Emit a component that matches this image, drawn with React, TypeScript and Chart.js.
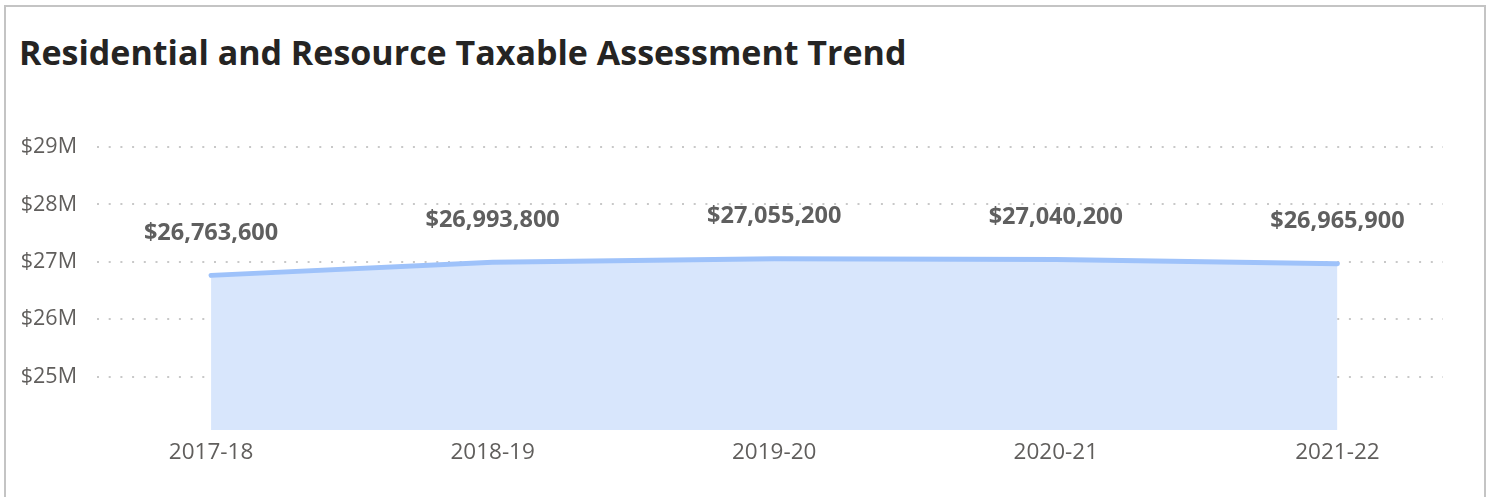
import React, { useEffect, useRef } from "react";
import { Chart, registerables } from "chart.js";

Chart.register(...registerables);

const TITLE = "Residential and Resource Taxable Assessment Trend";
const categories = ["2017-18", "2018-19", "2019-20", "2020-21", "2021-22"];
const assessmentValues = [26763600, 26993800, 27055200, 27040200, 26965900];
const yTickValues = [25000000, 26000000, 27000000, 28000000, 29000000];

const FONT = "'Open Sans', 'DejaVu Sans', sans-serif";
const TEXT_GRAY = "#605e5c";

const fmtMoney = (v: number) => "$" + v.toLocaleString("en-US");
const fmtM = (v: number) => "$" + Math.round(v / 1000000) + "M";

const dataLabelPlugin = {
  id: "dataLabels",
  afterDatasetsDraw(chart: any) {
    const ctx = chart.ctx;
    const meta = chart.getDatasetMeta(0);
    ctx.save();
    ctx.font = `bold 23.5px ${FONT}`;
    ctx.fillStyle = "#5f5f5f";
    ctx.textAlign = "center";
    ctx.textBaseline = "middle";
    meta.data.forEach((pt: any, i: number) => {
      ctx.fillText(fmtMoney(assessmentValues[i]), pt.x, pt.y - 42);
    });
    ctx.restore();
  },
};

export default function App() {
  const canvasRef = useRef<HTMLCanvasElement | null>(null);

  useEffect(() => {
    if (!canvasRef.current) return;
    const chart = new Chart(canvasRef.current, {
      type: "line",
      data: {
        datasets: [
          {
            data: assessmentValues.map((v, i) => ({ x: i, y: v })),
            borderColor: "#9ec2fa",
            backgroundColor: "#d8e6fc",
            borderWidth: 5,
            borderCapStyle: "round",
            borderJoinStyle: "round",
            pointRadius: 0,
            pointHoverRadius: 0,
            tension: 0,
            fill: "start",
          },
        ],
      },
      options: {
        responsive: false,
        animation: false,
        events: [],
        layout: { padding: { top: 147, left: 0, right: 46, bottom: 0 } },
        plugins: {
          legend: { display: false },
          tooltip: { enabled: false },
          title: { display: false },
        },
        scales: {
          x: {
            type: "linear",
            min: -0.405,
            max: 4.375,
            grid: { display: false, drawTicks: false },
            border: { display: false },
            afterBuildTicks: (scale: any) => {
              scale.ticks = categories.map((_, i) => ({ value: i }));
            },
            afterFit: (scale: any) => {
              scale.height = 67;
            },
            ticks: {
              padding: 9,
              color: TEXT_GRAY,
              font: { family: FONT, size: 22.5 },
              maxRotation: 0,
              autoSkip: false,
              callback: (v: any) => categories[v as number] ?? "",
            },
          },
          y: {
            min: 24070000,
            max: 29000000,
            grid: {
              color: "#c8c8c8",
              lineWidth: 2,
              drawTicks: false,
            },
            border: { display: false, dash: [2, 9.7] },
            afterBuildTicks: (scale: any) => {
              scale.ticks = yTickValues.map((v) => ({ value: v }));
            },
            afterFit: (scale: any) => {
              scale.width = 97;
            },
            ticks: {
              padding: 20,
              color: TEXT_GRAY,
              font: { family: FONT, size: 21.5 },
              callback: (v: any) => fmtM(v as number),
            },
          },
        },
      },
      plugins: [dataLabelPlugin],
    } as any);
    return () => chart.destroy();
  }, []);

  return (
    <div style={{ position: "absolute", left: 0, top: 0, width: 1489, height: 497, overflow: "hidden", background: "#fff" }}>
      <div
        style={{
          position: "absolute",
          left: 4,
          top: 5,
          width: 1482,
          height: 540,
          border: "2px solid #c4c4c4",
          boxSizing: "border-box",
          background: "#fff",
        }}
      />
      <div
        style={{
          position: "absolute",
          left: 19,
          top: 31,
          fontFamily: FONT,
          fontWeight: 700,
          fontSize: 34,
          lineHeight: "42px",
          color: "#252423",
          whiteSpace: "nowrap",
        }}
      >
        {TITLE}
      </div>
      <canvas
        ref={canvasRef}
        width={1489}
        height={497}
        style={{ position: "absolute", left: 0, top: 0, width: 1489, height: 497 }}
      />
    </div>
  );
}
